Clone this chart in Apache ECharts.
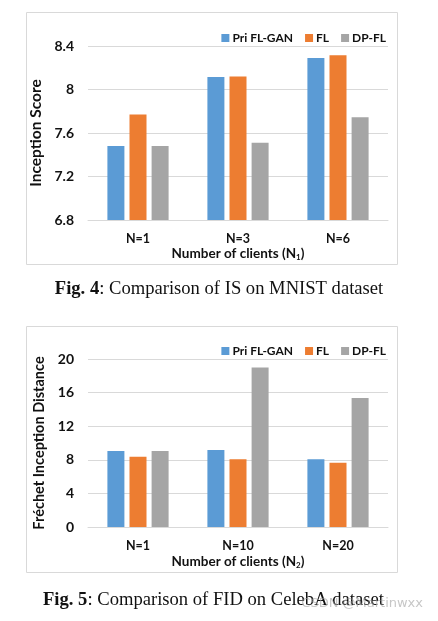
<!DOCTYPE html>
<html><head><meta charset="utf-8">
<script src="https://cdn.jsdelivr.net/npm/echarts@6/dist/echarts.min.js"></script>
<style>html,body{margin:0;padding:0;background:#fff}#c{width:438px;height:621px}</style>
</head><body><div id="c"></div>
<script>
const seriesNames = ['Pri FL-GAN', 'FL', 'DP-FL'];
const colors = ['#5B9BD5', '#ED7D31', '#A5A5A5'];
// Fig. 4: Inception Score on MNIST
const cats1 = ['N=1', 'N=3', 'N=6'];
const isPri = [7.48, 8.115, 8.29];
const isFL = [7.77, 8.12, 8.315];
const isDP = [7.48, 7.51, 7.745];
const ticks1 = { min: 6.8, max: 8.4, interval: 0.4 };
// Fig. 5: FID on CelebA
const cats2 = ['N=1', 'N=10', 'N=20'];
const fidPri = [9.05, 9.17, 8.06];
const fidFL = [8.37, 8.06, 7.66];
const fidDP = [9.05, 19.0, 15.36];
const ticks2 = { min: 0, max: 20, interval: 4 };

const FONT = 'Lato';
const chart = echarts.init(document.getElementById('c'), null, { renderer: 'canvas' });

function xAxis(idx, cats, sub, gap) {
  return {
    type: 'category', gridIndex: idx, data: cats,
    axisLine: { lineStyle: { color: '#d9d9d9' } }, axisTick: { show: false },
    axisLabel: { margin: 12, color: '#111', fontFamily: FONT, fontWeight: 'bold', fontSize: 12.5 },
    name: '{n|Number of clients (N}{s|' + sub + '}{n|)}', nameLocation: 'middle', nameGap: gap,
    nameTextStyle: { rich: {
      n: { fontFamily: FONT, fontWeight: 'bold', fontSize: 13.5, color: '#111' },
      s: { fontFamily: FONT, fontWeight: 'bold', fontSize: 8, color: '#111', verticalAlign: 'bottom', padding: [6, 0, 0, 0] }
    } }
  };
}
function yAxis(idx, t, name, gap, dec, fs) {
  return {
    type: 'value', gridIndex: idx, min: t.min, max: t.max, interval: t.interval,
    axisLine: { show: false }, axisTick: { show: false },
    splitLine: { lineStyle: { color: '#d9d9d9' } },
    axisLabel: { margin: 14, color: '#111', fontFamily: FONT, fontWeight: 'bold', fontSize: 14,
      formatter: v => String(+v.toFixed(dec)) },
    name: name, nameLocation: 'middle', nameGap: gap,
    nameTextStyle: { fontFamily: FONT, fontWeight: 'bold', fontSize: fs, color: '#111' }
  };
}
function bars(idx, arr) {
  return arr.map((d, i) => ({
    type: 'bar', name: seriesNames[i], xAxisIndex: idx, yAxisIndex: idx, data: d,
    barWidth: 17, barGap: '30%', itemStyle: { color: colors[i] }
  }));
}
function legend(top) {
  return {
    data: seriesNames, right: 47, top: top, itemWidth: 8, itemHeight: 8, itemGap: 12,
    icon: 'rect', textStyle: { fontFamily: FONT, fontWeight: 'bold', fontSize: 12, color: '#111', padding: [0, 0, 0, -2] }
  };
}

chart.setOption({
  animation: false,
  color: colors,
  legend: [legend(27), legend(340)],
  grid: [
    { left: 88, right: 50, top: 46, height: 174 },
    { left: 88, right: 50, top: 359, height: 168 }
  ],
  xAxis: [xAxis(0, cats1, '1', 27), xAxis(1, cats2, '2', 28)],
  yAxis: [yAxis(0, ticks1, 'Inception Score', 38, 1, 15.5), yAxis(1, ticks2, 'Fréchet Inception Distance', 32, 0, 14.5)],
  series: [...bars(0, [isPri, isFL, isDP]), ...bars(1, [fidPri, fidFL, fidDP])],
  graphic: [
    { type: 'rect', shape: { x: 26.5, y: 12.5, width: 371, height: 252 }, style: { fill: 'none', stroke: '#d9d9d9', lineWidth: 1 }, silent: true, z: -1 },
    { type: 'rect', shape: { x: 26.5, y: 326.5, width: 371, height: 246 }, style: { fill: 'none', stroke: '#d9d9d9', lineWidth: 1 }, silent: true, z: -1 },
    { type: 'text', left: 'center', top: 280, style: {
      text: '{b|Fig. 4}{r|: Comparison of IS on MNIST dataset}',
      rich: { b: { fontFamily: 'Liberation Serif', fontWeight: 'bold', fontSize: 18.6, fill: '#111' },
              r: { fontFamily: 'Liberation Serif', fontSize: 18.6, fill: '#111' } } } },
    { type: 'text', left: 43, top: 591, style: {
      text: '{b|Fig. 5}{r|: Comparison of FID on CelebA dataset}',
      rich: { b: { fontFamily: 'Liberation Serif', fontWeight: 'bold', fontSize: 18.6, fill: '#111' },
              r: { fontFamily: 'Liberation Serif', fontSize: 18.6, fill: '#111' } } } },
    { type: 'text', right: 15, top: 597, z: 100, style: {
      text: 'CSDN @Martinwxx', fontFamily: 'DejaVu Sans', fontSize: 13, fill: 'rgba(160,160,160,0.6)' } }
  ]
});
</script></body></html>
